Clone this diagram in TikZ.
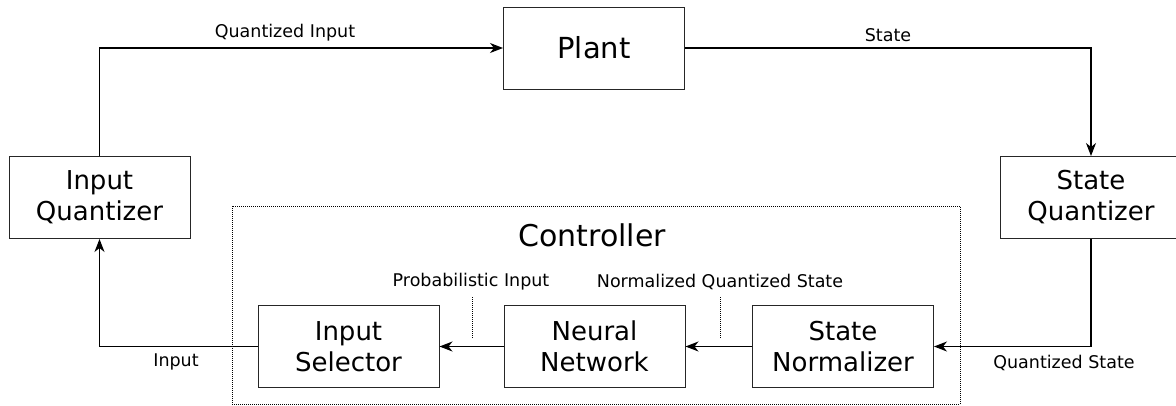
\documentclass[tikz,border=0pt]{standalone}
\usepackage{fontspec}
\setmainfont{DejaVu Sans}
\usetikzlibrary{arrows.meta}

\tikzset{
  blk/.style={draw=black!85, line width=1pt, minimum width=181pt, minimum height=82pt,
              inner sep=0pt, align=center, font=\fontsize{26}{31}\selectfont},
  lbl/.style={inner sep=0pt, font=\fontsize{17.5}{21}\selectfont},
  flow/.style={line width=1.2pt, -{Stealth[length=13pt, width=10pt, inset=4pt]}},
  ctrlbox/.style={draw, line width=0.9pt, dash pattern=on 1pt off 1pt,
                  minimum width=728pt, minimum height=198pt, inner sep=0pt},
  tick/.style={line width=0.9pt, dash pattern=on 1pt off 1pt},
}

\begin{document}
\begin{tikzpicture}[x=1pt, y=-1pt]
\useasboundingbox (0,0) rectangle (1176,405);

% controller frame and its title
\node[ctrlbox] (ctrl) at (596,305) {};
\node[inner sep=0pt, font=\fontsize{30}{36}\selectfont] (ctrlname) at (592,235) {Controller};

% blocks
\node[blk, font=\fontsize{29}{34}\selectfont] (plant) at (594,48) {Plant};
\node[blk] (iq) at (99.5,197.5) {Input\\Quantizer};
\node[blk] (sq) at (1091,197.5) {State\\Quantizer};
\node[blk] (is) at (348.5,346.5) {Input\\Selector};
\node[blk] (nn) at (594.5,346.5) {Neural\\Network};
\node[blk] (sn) at (843,346.5) {State\\Normalizer};

% signal flow
\draw[flow] (iq.north) |- (plant.west);
\draw[flow] (plant.east) -| (sq.north);
\draw[flow] (sq.south) |- (sn.east);
\draw[flow] (sn.west) -- (nn.east);
\draw[flow] (nn.west) -- (is.east);
\draw[flow] (is.west) -| (iq.south);

% signal labels
\node[lbl] (lqin) at (285,33) {Quantized Input};
\node[lbl] (lst) at (888,35) {State};
\node[lbl] (lqst) at (1064,363) {Quantized State};
\node[lbl] (lin) at (176,362) {Input};
\node[lbl] (lpi) at (471,282) {Probabilistic Input};
\node[lbl] (lnqs) at (720,282) {Normalized Quantized State};

% dotted leaders from the inner labels to their connectors
\coordinate (pi1) at (472,297);
\coordinate (pi2) at (472,338);
\coordinate (nq1) at (720,297);
\coordinate (nq2) at (720,338);
\draw[tick] (pi1) -- (pi2);
\draw[tick] (nq1) -- (nq2);
\end{tikzpicture}
\end{document}
